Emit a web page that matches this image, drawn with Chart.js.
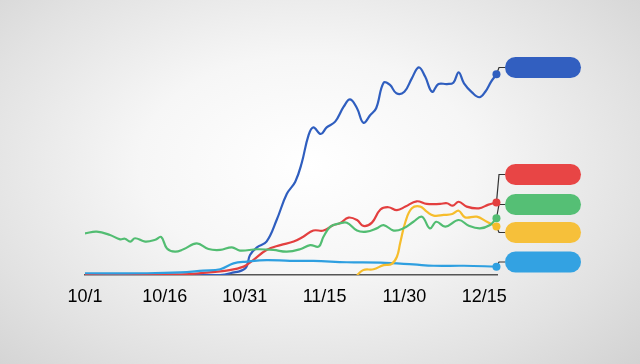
<!DOCTYPE html>
<html>
<head>
<meta charset="utf-8">
<script src="https://cdn.jsdelivr.net/npm/chart.js@4"></script>
<style>
  html, body { margin: 0; padding: 0; }
  body {
    width: 640px; height: 364px; overflow: hidden;
    background: radial-gradient(ellipse 75% 85% at 48% 45%, #ffffff 0%, #f6f6f6 35%, #e2e2e2 70%, #cfcfcf 100%);
  }
  canvas { display: block; }
</style>
</head>
<body>
<canvas id="trendChart" width="640" height="364"></canvas>
<script>
// ---- DATA (day 0 = 10/1) ----
const tickDays = [0, 15, 30, 45, 60, 75];
const tickLabels = ["10/1", "10/16", "10/31", "11/15", "11/30", "12/15"];

const blueDays = [0, 11.6, 19.7, 25.4, 27.3, 30.1, 31.0, 32.3, 34.1, 36.0, 37.9, 39.5, 40.7, 42.0, 42.9, 44.3, 45.4, 47.0, 48.6, 49.8, 51.1, 52.3, 53.6, 54.7, 56.1, 57.3, 58.5, 60.0, 61.4, 62.7, 63.9, 65.2, 66.4, 68.0, 69.2, 70.2, 71.2, 72.7, 74.1, 75.2, 76.3, 77.3];
const blueValues = [0.3, 0.3, 0, 0, 0.8, 3.0, 9.1, 12.6, 15.2, 25, 36.8, 42.4, 50.8, 63.6, 67.1, 64.1, 67.1, 69.7, 76.5, 79.8, 75.8, 69.2, 72.7, 75.8, 87.4, 86.4, 82.6, 83.3, 89.4, 94.4, 90.2, 83.3, 86.8, 86.8, 87.4, 92.1, 87.1, 83.0, 80.8, 83.3, 87.9, 91.2];

const redDays = [0, 17.9, 22.9, 26.6, 29.8, 31.6, 34.1, 36.7, 39.2, 41.0, 42.9, 44.8, 46.7, 47.9, 49.5, 51.1, 52.3, 53.9, 55.5, 57.0, 58.6, 60.2, 62.3, 64.2, 66.7, 68.0, 69.1, 70.2, 71.7, 74.0, 75.8, 77.3];
const redValues = [0, 0.2, 1.1, 2.0, 3.8, 6.8, 11.4, 13.6, 15.2, 17.4, 20.2, 20.2, 22.7, 23.5, 26.1, 25, 22.3, 23.8, 29.8, 30.8, 29.5, 31.1, 33.5, 32.3, 32.3, 32.6, 31.5, 33.3, 31.1, 30.3, 32.0, 32.9];

const greenDays = [0, 2.2, 4.7, 6.6, 7.5, 8.5, 9.4, 11.3, 13.2, 14.3, 15.4, 16.9, 18.5, 21.0, 23.2, 25.4, 27.6, 29.1, 32.3, 35.4, 37.9, 40.4, 42.3, 43.9, 44.8, 46.1, 47.9, 49.2, 51.1, 52.9, 54.8, 56.1, 58.0, 59.8, 61.7, 63.3, 64.8, 66.0, 67.7, 70.2, 72.1, 74.2, 76.1, 77.3];
const greenValues = [18.9, 19.7, 18.2, 16.2, 16.5, 15.2, 16.7, 15.2, 16, 17.3, 12.1, 10.6, 11.7, 14.4, 11.8, 11.4, 12.6, 11.1, 11.7, 11.4, 10.6, 11.7, 13.6, 12.9, 17.4, 22, 23.5, 23.8, 20.2, 19.7, 21.2, 22.7, 20.2, 21.2, 24.2, 26.5, 21.2, 24.2, 22, 25, 22.4, 21.2, 22.7, 25.8];

const yellowDays = [51.1, 52.3, 54.2, 56.1, 57.6, 58.6, 59.2, 60.2, 61.4, 63.0, 64.2, 65.5, 67.4, 69.0, 70.2, 71.4, 73.6, 75.5, 77.3];
const yellowValues = [0, 2.3, 2.6, 4.5, 5.0, 8.3, 14.4, 24.2, 30.3, 31.1, 28.8, 27, 27.3, 27.7, 29.2, 26.2, 26.5, 24.2, 22];

const skyDays = [0, 11.6, 17.9, 22.2, 25.4, 27.9, 30.4, 34.1, 38.5, 42.9, 49.2, 55.5, 61.7, 65.5, 71.2, 77.3];
const skyValues = [0.8, 0.8, 1.2, 2.0, 2.6, 5.3, 6.1, 6.8, 6.4, 6.4, 5.8, 5.6, 4.8, 4.2, 4.2, 3.8];

function pts(days, vals) {
    return days.map((d, i) => ({ x: d, y: vals[i] }));
}

// ---- pills + connectors on the right ----
const pillPlugin = {
    id: "pills",
    afterDatasetsDraw(chart, args, opts) {
        const ctx = chart.ctx;
        chart.data.datasets.forEach((ds, i) => {
            const meta = chart.getDatasetMeta(i);
            const last = meta.data[meta.data.length - 1];
            const py = opts.centers[ds.pill];
            ctx.save();
            ctx.strokeStyle = "#333";
            ctx.lineWidth = 1.2;
            ctx.beginPath();
            ctx.moveTo(last.x, last.y);
            ctx.lineTo(opts.elbowX, py);
            ctx.lineTo(opts.left, py);
            ctx.stroke();
            // dot
            ctx.fillStyle = ds.borderColor;
            ctx.beginPath();
            ctx.arc(last.x, last.y, 4, 0, Math.PI * 2);
            ctx.fill();
            // pill
            const h = opts.height, w = opts.width, r = h / 2;
            ctx.fillStyle = ds.pillColor;
            ctx.beginPath();
            ctx.roundRect(opts.left, py - r, w, h, r);
            ctx.fill();
            ctx.restore();
        });
    }
};

const ctx = document.getElementById("trendChart").getContext("2d");

new Chart(ctx, {
    type: "line",
    data: {
        datasets: [
            { data: pts(greenDays, greenValues), borderColor: "#52bd72", pillColor: "#55bf75", pill: 2 },
            { data: pts(yellowDays, yellowValues), borderColor: "#f6bd2c", pillColor: "#f6c03a", pill: 3 },
            { data: pts(skyDays, skyValues), borderColor: "#2e9fe0", pillColor: "#33a2e2", pill: 4 },
            { data: pts(redDays, redValues), borderColor: "#e33f3f", pillColor: "#e84545", pill: 1 },
            { data: pts(blueDays, blueValues), borderColor: "#2f5ebf", pillColor: "#325fc0", pill: 0 }
        ]
    },
    options: {
        responsive: false,
        animation: false,
        devicePixelRatio: 1,
        layout: { padding: { left: 85, right: 143, top: 55, bottom: 0 } },
        elements: {
            line: { borderWidth: 2.2, tension: 0.4, fill: false },
            point: { radius: 0, hoverRadius: 0 }
        },
        plugins: {
            legend: { display: false },
            tooltip: { enabled: false },
            pills: { centers: [67.5, 174.5, 204.5, 232.5, 262], elbowX: 499, left: 505, width: 76, height: 21 }
        },
        scales: {
            x: {
                type: "linear",
                min: 0,
                max: 77.4,
                grid: { display: false, drawTicks: false },
                border: { display: true, color: "#555", width: 1.5 },
                afterBuildTicks: s => { s.ticks = tickDays.map(v => ({ value: v })); },
                afterFit: s => { s.height = 89; },
                ticks: {
                    autoSkip: false,
                    maxRotation: 0,
                    padding: 11,
                    color: "#000",
                    font: { family: "Liberation Sans", size: 18 },
                    callback: v => tickLabels[tickDays.indexOf(v)]
                }
            },
            y: {
                display: false,
                min: 0,
                max: 100
            }
        }
    },
    plugins: [pillPlugin]
});
</script>
</body>
</html>
